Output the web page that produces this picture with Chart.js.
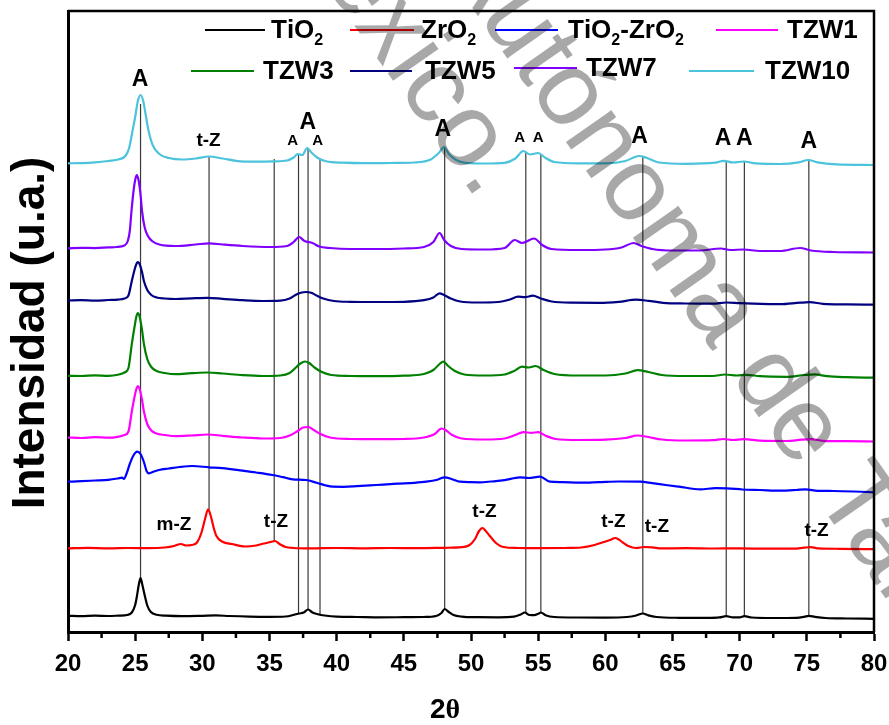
<!DOCTYPE html>
<html>
<head>
<meta charset="utf-8">
<script src="https://cdn.jsdelivr.net/npm/chart.js@4.4.0/dist/chart.umd.min.js"></script>
<style>
  html, body { margin: 0; padding: 0; background: #fff; }
  canvas { display: block; }
</style>
</head>
<body>
<canvas id="chart-xrd" width="889" height="725"></canvas>
<script>
// Data (2theta, intensity in arbitrary units, patterns already stacked)
const tio2 = [[20,16.2],[21,15.8],[22,16.3],[23,16],[23.8,16.4],[24.4,17],[24.75,19.5],[25.0,27],[25.12,35],[25.28,48],[25.4,54],[25.52,48],[25.74,35],[25.9,26.5],[26.17,20],[26.6,17.2],[27.3,16.3],[28.5,15.8],[30,16.2],[31,16.6],[32,16],[33.5,15.4],[35,15.2],[36.2,15.5],[36.9,17.5],[37.2,18.5],[37.55,19.5],[37.87,22.5],[38.2,19.5],[38.6,17.8],[39.1,16.5],[40,15.3],[41.5,15],[43,14.7],[45,14.8],[46.5,15],[47.4,16],[47.8,19],[48.04,23],[48.3,20.5],[48.7,17],[49.3,15.4],[50.5,14.8],[52,14.7],[53.2,15.3],[53.7,17.5],[54.0,19.5],[54.35,17],[54.7,16.8],[55.05,18.5],[55.2,19.5],[55.55,16.8],[56.2,15],[58,14.5],[60,14.4],[61.6,15],[62.3,16.5],[62.79,18.5],[63.2,16.6],[63.8,15],[65.5,14.2],[67.5,14.1],[68.5,14.6],[69.0,15.8],[69.5,14.6],[70,14.6],[70.35,15.8],[70.9,14.5],[72.5,14],[74.2,14.2],[74.8,15.2],[75.15,16.2],[75.6,15.2],[76.4,14],[78,13.5],[80,13.2]];

const zro2 = [[20,83.7],[21.5,84.2],[23,83.6],[24.5,84],[26,83.8],[27.2,84.5],[27.9,86],[28.4,88],[28.8,86.5],[29.2,87],[29.6,89.5],[29.95,100],[30.2,113],[30.43,122.7],[30.65,115],[30.85,104],[31.05,96],[31.5,90.3],[32.2,88],[33.2,85.5],[34,86.5],[34.6,88.5],[35.1,90],[35.4,91],[35.75,88],[36.2,85],[36.8,84],[38,83.6],[40,84],[42,83.7],[44,84],[46,83.8],[48,84.2],[49.3,84.8],[49.9,87],[50.3,93],[50.6,101],[50.85,104],[51.1,101],[51.4,96],[51.9,88.5],[52.4,85],[53.5,84],[55,83.8],[57,84],[58.2,84.5],[59.2,87],[59.9,90],[60.4,92.3],[60.73,94],[61.0,92.5],[61.3,89.5],[61.7,86],[62.3,84],[62.9,85],[63.5,84.6],[64.2,83.6],[66,83.8],[68,83.5],[70,83.6],[72,83.3],[74,83.4],[74.8,84.3],[75.3,84.8],[75.9,83.6],[77.5,83.2],[80,82.8]];

const tio2zro2 = [[20,150.3],[21,150.8],[22,151.5],[23,152.2],[23.7,153.5],[24.03,154.3],[24.16,153],[24.35,158],[24.6,168],[24.85,176],[25.15,180.3],[25.4,178],[25.65,170],[25.85,161],[26.02,158.7],[26.4,160.5],[26.77,162],[27.5,163.5],[28.3,165],[29.25,166],[30.5,164.7],[31.5,163.8],[32.99,161.3],[34,159.5],[35.22,157],[36,154.8],[36.72,152.7],[37.72,152],[38.5,149.3],[39.2,146.5],[39.7,145.3],[40.5,145.2],[41.5,145.8],[42.94,147],[44.5,148.3],[45.8,149.2],[46.67,150.3],[47.5,152.3],[48.04,154.7],[48.6,152.8],[49.16,150.3],[50,149.8],[50.65,149.7],[51.5,150.5],[52.5,151.8],[53.63,154.7],[54.3,154],[55.13,155.3],[55.87,150.3],[56.8,149.8],[58.11,149.3],[59.5,149.8],[61,150.5],[62.59,150.3],[63.5,148.8],[64.5,147],[65.5,145.3],[67.07,142.7],[68.2,143.8],[69.06,143.7],[70.2,142.5],[71.5,142],[73.04,141.3],[74.2,142],[74.9,142.7],[75.8,141.2],[77,141],[78.5,140.5],[80,139.7]];

const tzw1 = [[20,194.5],[21,194],[22,194.8],[23,194.3],[23.7,195.2],[24.2,197],[24.5,200.5],[24.75,220.5],[24.95,235],[25.1,243.5],[25.2,246],[25.32,243.5],[25.5,233],[25.65,220.5],[25.9,208],[26.2,201.5],[26.6,198.5],[27.2,197],[28,195.8],[29.2,196.5],[30.4,197.5],[31.5,196.2],[33,194.5],[34.5,193.5],[35.8,194],[36.6,197],[37.1,201],[37.5,204.5],[37.9,205],[38.3,202],[38.8,198],[39.5,194.5],[41,193],[43,192.8],[45,193],[46.5,194.5],[47.3,198],[47.8,203.5],[48.1,202],[48.6,197],[49.3,193.5],[51,192.5],[52.5,193.5],[53.3,197],[53.9,199.8],[54.5,199.2],[55,199.8],[55.6,196],[56.3,193],[58,192],[60,192.3],[61.5,194],[62.4,196.5],[63.2,195],[64.2,192.5],[66,191.5],[68,191.8],[68.8,193],[69.5,192],[70.3,192.8],[71.5,191.3],[73.5,191],[74.6,192.3],[75.3,192.8],[76.2,191.2],[78,190.8],[80,190.5]];

const tzw3 = [[20,256.2],[21,256],[22,256.6],[23,256.2],[23.7,257.2],[24.2,259.5],[24.5,264],[24.75,288],[24.95,305],[25.1,316],[25.2,319],[25.32,316],[25.5,303],[25.65,288],[25.9,273],[26.2,265],[26.6,261],[27.2,259],[28,257.8],[29.2,258.8],[30.4,259.5],[31.5,258.5],[33,256.8],[34.5,256],[35.8,256.5],[36.5,259],[37.0,265],[37.3,268.5],[37.65,270.5],[37.95,269],[38.4,264],[38.9,260],[39.6,257],[41,256],[43,255.8],[45,256.3],[46.5,258],[47.2,262],[47.7,268.5],[47.95,270.4],[48.3,266],[48.8,261],[49.5,257.5],[51,256.5],[52.5,257.5],[53.2,261],[53.8,265.4],[54.3,264.5],[54.8,266],[55.4,262],[56.2,258],[58,256.5],[60,256.5],[61.5,258.5],[62.4,261.8],[63.2,260],[64.2,257],[66,256],[68,256],[68.9,257.5],[69.8,256.5],[70.5,257.2],[71.5,255.8],[73.5,255.2],[74.8,257],[75.6,257.7],[76.5,255.8],[78,254.8],[80,254.3]];

const tzw5 = [[20,331.5],[21,331.8],[22,331.3],[23,332],[23.7,332.4],[24.2,333.5],[24.5,336.5],[24.75,351],[24.95,362],[25.1,368.2],[25.2,370],[25.32,368.2],[25.5,360.5],[25.65,351],[25.9,342],[26.2,337],[26.6,334.5],[27.2,333.5],[28,333],[29.2,333.7],[30.4,334.2],[31.5,333.2],[33,331.8],[34.5,331],[35.8,331.3],[36.5,333.5],[37.0,337.5],[37.4,339.5],[37.7,340],[38.1,339.2],[38.5,336.5],[39,333.5],[39.8,331],[41,330.2],[43,330],[45,330.2],[46.5,331.8],[47.2,334.5],[47.66,338.7],[48.0,337],[48.5,333.5],[49.2,330.5],[50.5,329.5],[52,330],[52.9,332.5],[53.5,335.3],[54.0,334.8],[54.6,336.3],[55.2,333.5],[56,330.5],[57.5,329.3],[59.5,329.2],[61,330.2],[62.3,332.3],[63.2,331.2],[64.3,329.2],[66,328.5],[68,328.3],[69,329.5],[70,328.8],[71,328.3],[73,327.8],[74.5,329.3],[75.2,329.8],[76.2,328.2],[78,327.6],[80,327.3]];

const tzw7 = [[20,383.7],[21,384.2],[22,383.9],[23,384.6],[23.6,385],[24.2,386.5],[24.45,391],[24.6,401],[24.72,420],[24.87,440],[25.0,452],[25.12,457],[25.25,452],[25.38,440],[25.52,420],[25.7,405],[25.95,396],[26.3,390.5],[26.8,387.5],[28,386],[29.5,387.5],[30.5,388.7],[31.5,387.5],[33,386],[35,385],[36.3,386],[36.8,390],[37.2,395],[37.6,391],[38.2,389],[38.7,385.5],[39.5,384],[41,383],[43,383],[45,383.5],[46.5,385],[47.2,390],[47.66,399],[48.0,392],[48.5,386],[49.3,383],[51,382.5],[52.5,384],[53.26,392],[53.8,389],[54.7,393.5],[55.3,387],[56,383],[58,382],[60,382.5],[61.2,384.5],[62.1,389],[62.7,386],[63.5,383],[65,381.5],[67,381.5],[68.6,383.5],[69.3,382],[70.3,382.5],[71.5,381],[73,381],[74.5,384],[75.3,381.5],[77,380],[80,379.5]];

const tzw10 = [[20,468.7],[21,468.9],[22,469.6],[23,471],[23.8,472.7],[24.3,476.5],[24.55,484],[24.83,503],[25.0,515],[25.2,531],[25.4,537],[25.6,531],[25.8,516],[25.97,503],[26.3,487],[26.8,478],[27.5,474],[28.5,472.5],[29.5,473.5],[30.5,475.5],[31.5,473.5],[32.5,471.2],[34,470.3],[35.3,470.6],[36.3,471.5],[36.8,474.5],[37.1,478],[37.45,477],[37.8,484],[38.15,479],[38.6,474],[39.2,470.8],[40.5,469.3],[42,468.8],[44,469],[45.8,469.5],[47,472.5],[47.6,479],[48.0,485],[48.35,478],[48.9,472],[49.6,469.2],[51,468.5],[52.5,469.2],[53.3,473.5],[53.9,481],[54.4,477.5],[55.0,479],[55.5,474.5],[56.2,470],[58,468.6],[60,468.7],[61.5,471],[62.5,476],[63.1,474],[64,469.5],[66,468.2],[68.2,469.3],[68.8,471.2],[69.5,469.5],[70.3,470.5],[71.2,468.6],[73,468],[74.4,469.6],[75.1,472],[75.8,469.6],[77.2,467.6],[80,467]];

const seriesNames = ['TiO₂', 'ZrO₂', 'TiO₂-ZrO₂', 'TZW1', 'TZW3', 'TZW5', 'TZW7', 'TZW10'];
const seriesData = [tio2, zro2, tio2zro2, tzw1, tzw3, tzw5, tzw7, tzw10];
const seriesColors = ['#000000', '#ff0000', '#0000ff', '#ff00ff', '#008000', '#000080', '#8000ff', '#4cc3dc'];

// reference lines: [2theta, top intensity, bottom intensity]
const refLines = [[25.40,528,54],[30.50,475,122.5],[35.35,473,91],[37.16,478,18.7],[37.87,484,22.5],[38.76,472,17.5],[48.04,484.5,23],[54.08,480,19.3],[55.20,477.5,19.5],[62.79,475,18.5],[69.00,470,15.8],[70.35,470.3,15.8],[75.15,471.8,16.2]];

// phase tags: [text, 2theta, intensity, kind]
const peakTags = [
  ['A',25.37,552,'big'],['t-Z',30.46,491,'phase'],['A',36.72,491,'small'],['A',37.86,509,'big'],['A',38.58,491,'small'],
  ['A',47.91,502,'big'],['A',53.63,494,'small'],['A',55.0,494,'small'],['A',62.54,495,'big'],
  ['A',68.76,493,'big'],['A',70.35,493,'big'],['A',75.15,490,'big'],
  ['m-Z',27.89,107,'phase'],['t-Z',35.48,110,'phase'],['t-Z',51.0,120,'phase'],['t-Z',60.6,110,'phase'],['t-Z',63.84,105,'phase'],['t-Z',75.72,101,'phase']
];

const FONT = '"Liberation Sans", Arial, Helvetica, sans-serif';
Chart.defaults.font.family = FONT;

const drawRich = (ctx, str, x, y, size) => {
  let cx = x;
  for (const ch of str) {
    if (ch === '₂') {
      ctx.font = 'bold ' + Math.round(size * 0.62) + 'px ' + FONT;
      ctx.fillText('2', cx, y + size * 0.38);
      cx += ctx.measureText('2').width;
    } else {
      ctx.font = 'bold ' + size + 'px ' + FONT;
      ctx.fillText(ch, cx, y);
      cx += ctx.measureText(ch).width;
    }
  }
};

const decor = {
  id: 'decor',
  afterDatasetsDraw(chart) {
    const { ctx, chartArea: a, scales: { x, y } } = chart;
    ctx.save();
    // top and right frame
    ctx.strokeStyle = '#000';
    ctx.lineWidth = 2.5;
    ctx.beginPath();
    ctx.moveTo(a.left, a.top);
    ctx.lineTo(a.right, a.top);
    ctx.lineTo(a.right, a.bottom);
    ctx.stroke();
    // minor ticks
    for (let v = 22.5; v < 80; v += 5) {
      const px = x.getPixelForValue(v);
      ctx.beginPath();
      ctx.moveTo(px, a.bottom);
      ctx.lineTo(px, a.bottom + 6);
      ctx.stroke();
    }
    // phase tags
    const sizes = { big: 23, small: 15, phase: 19 };
    ctx.fillStyle = '#000';
    ctx.textAlign = 'center';
    ctx.textBaseline = 'middle';
    peakTags.forEach(t => {
      ctx.font = 'bold ' + sizes[t[3]] + 'px ' + FONT;
      ctx.fillText(t[0], x.getPixelForValue(t[1]), y.getPixelForValue(t[2]));
    });
    // legend
    const slots = [[205,265,271,30],[350,414,421,30],[495,558,568,30],[716,778,787,30],
                   [191,254,263,71],[350,412,425,71],[514,577,586,68],[689,754,765,71]];
    ctx.textAlign = 'left';
    slots.forEach((s, i) => {
      ctx.strokeStyle = seriesColors[i];
      ctx.lineWidth = 2;
      ctx.beginPath();
      ctx.moveTo(s[0], s[3]);
      ctx.lineTo(s[1], s[3]);
      ctx.stroke();
      ctx.fillStyle = '#000';
      drawRich(ctx, seriesNames[i], s[2], s[3] + 1, 26);
    });
    ctx.restore();
  },
  afterDraw(chart) {
    const { ctx } = chart;
    ctx.save();
    ctx.fillStyle = '#000';
    // y title
    ctx.translate(31, 333);
    ctx.rotate(-Math.PI / 2);
    ctx.textAlign = 'center';
    ctx.textBaseline = 'middle';
    ctx.font = 'bold 46px ' + FONT;
    ctx.fillText('Intensidad (u.a.)', 0, 0);
    ctx.restore();
    // x title
    ctx.save();
    ctx.fillStyle = '#000';
    ctx.textBaseline = 'middle';
    ctx.font = 'bold 28px ' + FONT;
    const w2 = ctx.measureText('2').width;
    ctx.fillText('2', 430, 710);
    ctx.font = 'bold 28px "Liberation Serif", "Times New Roman", serif';
    ctx.fillText('θ', 430 + w2, 711);
    ctx.restore();
    // watermark
    ctx.save();
    ctx.font = '105px ' + FONT;
    ctx.fillStyle = 'rgba(0,0,0,0.34)';
    const ang = 55 * Math.PI / 180;
    const stamp = (text, pre, ch, px, py, dy) => {
      ctx.save();
      ctx.translate(px, py);
      ctx.rotate(ang);
      const off = ctx.measureText(pre).width + ctx.measureText(ch).width / 2;
      ctx.fillText(text, -off, dy);
      ctx.restore();
    };
    stamp('Universidad Juárez Autónoma de Tabasco', 'Universidad Juárez Aut', 'ó', 568, 96, 28);
    stamp('México.', 'México', '.', 474, 186, 6);
    ctx.restore();
  }
};

const datasets = [];
refLines.forEach(r => {
  datasets.push({
    data: [{ x: r[0], y: r[1] }, { x: r[0], y: r[2] }],
    borderColor: '#3a3a3a',
    borderWidth: 1.2,
    pointRadius: 0,
    tension: 0,
    order: 20
  });
});
seriesData.forEach((d, i) => {
  datasets.push({
    label: seriesNames[i],
    data: d.map(p => ({ x: p[0], y: p[1] })),
    borderColor: seriesColors[i],
    borderWidth: 2.2,
    pointRadius: 0,
    cubicInterpolationMode: 'monotone',
    order: 1
  });
});

new Chart(document.getElementById('chart-xrd').getContext('2d'), {
  type: 'line',
  data: { datasets },
  options: {
    responsive: false,
    animation: false,
    devicePixelRatio: 1,
    layout: { padding: { top: 11, right: 15, left: 0, bottom: 0 } },
    plugins: { legend: { display: false }, tooltip: { enabled: false } },
    scales: {
      x: {
        type: 'linear',
        min: 20,
        max: 80,
        afterFit: s => { s.height = 93; s.paddingLeft = 0; s.paddingRight = 0; },
        ticks: { stepSize: 5, color: '#000', padding: 9, maxRotation: 0, font: { size: 24, weight: 'bold' } },
        grid: { display: true, drawOnChartArea: false, drawTicks: true, tickLength: 9, tickWidth: 2.5, tickColor: '#000' },
        border: { display: true, width: 3, color: '#000' }
      },
      y: {
        min: 0,
        max: 621,
        afterFit: s => { s.width = 68; },
        ticks: { display: false },
        grid: { display: false },
        border: { display: true, width: 3, color: '#000' }
      }
    }
  },
  plugins: [decor]
});
</script>
</body>
</html>
